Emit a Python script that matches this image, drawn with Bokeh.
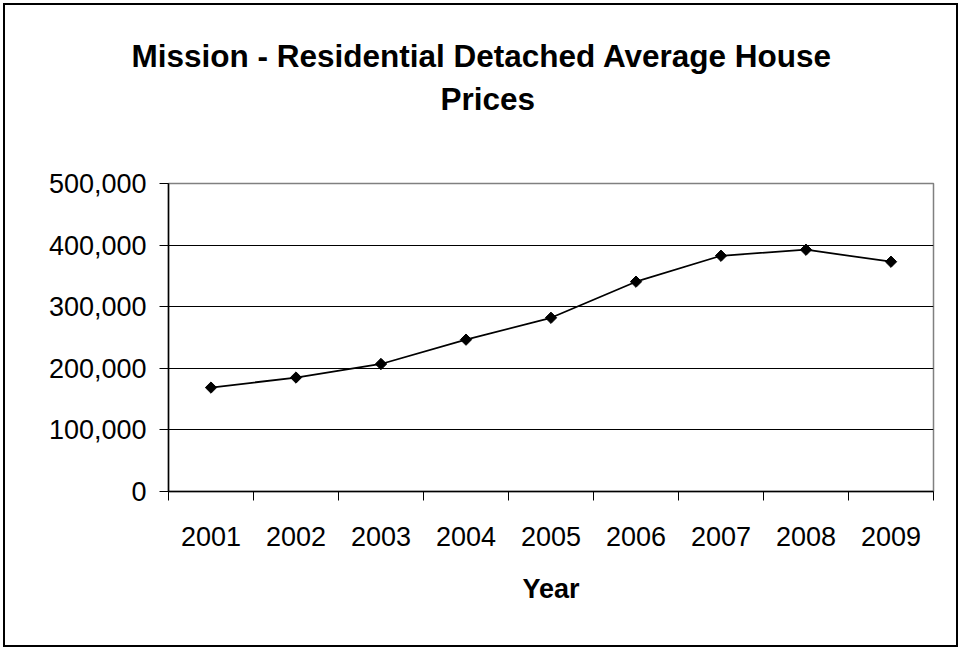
import math
from bokeh.plotting import figure
from bokeh.models import Range1d, FixedTicker, NumeralTickFormatter, ColumnDataSource, Title
from bokeh.embed import file_html
from bokeh.resources import INLINE

# ---- data ----
years = [2001, 2002, 2003, 2004, 2005, 2006, 2007, 2008, 2009]
prices = [168700, 185000, 207000, 246500, 282000, 340600, 382700, 392500, 373000]
year_labels = [str(y) for y in years]
y_ticks = [0, 100000, 200000, 300000, 400000, 500000]
title_lines = ["Mission - Residential Detached Average House", "Prices"]
x_title = "Year"

FONT = "Liberation Sans"

src = ColumnDataSource(dict(x=years, y=prices))

p = figure(width=955, height=644, output_backend="svg", toolbar_location=None,
           x_range=Range1d(years[0] - 0.5, years[-1] + 0.5),
           y_range=Range1d(0, 500000),
           min_border_left=163, min_border_right=27,
           min_border_top=178, min_border_bottom=158)
p.styles = {"border": "2px solid black", "margin-left": "3px", "margin-top": "3px"}

p.background_fill_color = "white"
p.border_fill_color = "white"
p.outline_line_color = "#808080"
p.outline_line_width = 1.5

# title: first line is the figure's own title (outer), second line stacked nearest the frame
def style_title(t, offset, standoff):
    t.text_font = FONT
    t.text_font_size = "31.5px"
    t.text_font_style = "bold"
    t.text_color = "black"
    t.align = "left"
    t.offset = offset
    t.standoff = standoff

p.title.text = title_lines[0]
style_title(p.title, -37, -122)
t2 = Title(text=title_lines[1])
style_title(t2, 272, 132.5)
p.add_layout(t2, "above")

# x axis
xa = p.xaxis[0]
xa.ticker = FixedTicker(ticks=years, minor_ticks=[y - 0.5 for y in years] + [years[-1] + 0.5])
xa.major_label_overrides = {y: l for y, l in zip(years, year_labels)}
xa.major_tick_out = 0
xa.major_tick_in = 0
xa.minor_tick_out = 9
xa.minor_tick_in = 0
xa.minor_tick_line_color = "black"
xa.minor_tick_line_width = 1
xa.axis_line_color = "black"
xa.axis_line_width = 1.5
xa.major_label_text_font = FONT
xa.major_label_text_font_size = "27px"
xa.major_label_text_color = "black"
xa.major_label_standoff = 26
xa.axis_label = x_title
xa.axis_label_text_font = FONT
xa.axis_label_text_font_size = "27px"
xa.axis_label_text_font_style = "bold"
xa.axis_label_text_color = "black"
xa.axis_label_standoff = 25

# y axis
ya = p.yaxis[0]
ya.ticker = FixedTicker(ticks=y_ticks, minor_ticks=[])
ya.formatter = NumeralTickFormatter(format="0,0")
ya.major_tick_out = 9
ya.major_tick_in = 0
ya.major_tick_line_color = "black"
ya.minor_tick_line_color = None
ya.axis_line_color = "black"
ya.axis_line_width = 1.5
ya.major_label_text_font = FONT
ya.major_label_text_font_size = "27px"
ya.major_label_text_color = "black"
ya.major_label_standoff = 13

# grid
p.xgrid.grid_line_color = None
p.ygrid.grid_line_color = "black"
p.ygrid.grid_line_width = 1

# series
p.line("x", "y", source=src, line_color="black", line_width=1.75)
p.scatter("x", "y", source=src, marker="square", size=8, angle=math.pi / 4,
          fill_color="black", line_color="black", line_width=1)

open("out.html", "w").write(file_html(p, INLINE))
